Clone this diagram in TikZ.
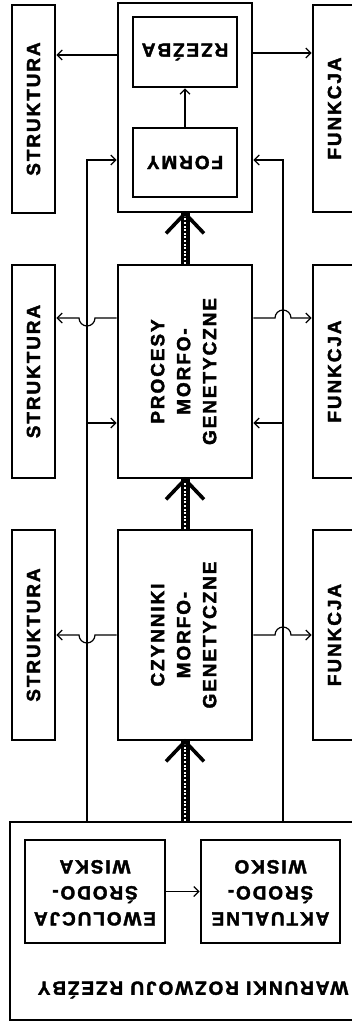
\documentclass[tikz,border=0pt]{standalone}
\usepackage{fontspec}
\newfontfamily\grube{Liberation Sans Bold}[LetterSpace=10, FakeBold=2]
\usepackage{graphicx}
\usetikzlibrary{arrows.meta}

\tikzset{every picture/.style={line width=1.2pt}}
\tikzset{
  napis/.style={font=\fontsize{19}{26}\grube},
  blok/.style={draw, line width=2.8pt, inner sep=0pt, napis},
  arr/.style={-{Straight Barb[length=5pt,width=10pt]}},
  pas/.style={line width=9pt},
  pasek/.style={white, line width=2.6pt, dash pattern=on 2pt off 1.6pt},
  chev/.style={line width=3.6pt},
}

\begin{document}
\begin{tikzpicture}[x=1pt,y=1pt,yscale=-1]
\useasboundingbox (0,0) rectangle (351,1024);
% gorny wiersz
\node[blok, minimum width=43, minimum height=208] (struk1) at (33.5,109) {\rotatebox{90}{STRUKTURA}};
\node[blok, minimum width=134, minimum height=209] (top) at (185,107.5) {};
\node[blok, minimum width=104, minimum height=70] (rzezba) at (185,52) {\rotatebox{180}{RZEŹBA}};
\node[blok, minimum width=104, minimum height=69] (formy) at (185,162.5) {\rotatebox{180}{FORMY}};
\node[blok, minimum width=43, minimum height=207] (funk1) at (334.5,108.5) {\rotatebox{90}{FUNKCJA}};
% srodkowy wiersz
\node[blok, minimum width=43, minimum height=213] (struk2) at (33.5,371.5) {\rotatebox{90}{STRUKTURA}};
\node[blok, minimum width=134, minimum height=213] (procesy) at (185,371.5)
  {\rotatebox{90}{\begin{tabular}{@{}c@{}}PROCESY\\MORFO-\\GENETYCZNE\end{tabular}}};
\node[blok, minimum width=43, minimum height=213] (funk2) at (334.5,371.5) {\rotatebox{90}{FUNKCJA}};
% dolny wiersz
\node[blok, minimum width=43, minimum height=210] (struk3) at (33.5,635) {\rotatebox{90}{STRUKTURA}};
\node[blok, minimum width=134, minimum height=210] (czynniki) at (185,635)
  {\rotatebox{90}{\begin{tabular}{@{}c@{}}CZYNNIKI\\MORFO-\\GENETYCZNE\end{tabular}}};
\node[blok, minimum width=43, minimum height=210] (funk3) at (334.5,635) {\rotatebox{90}{FUNKCJA}};
% warunki
\node[blok, minimum width=350, minimum height=198] (warunki) at (185,921) {};
\node[blok, minimum width=140, minimum height=103] (ewolucja) at (95,891.5)
  {\rotatebox{180}{\begin{tabular}{@{}c@{}}EWOLUCJA\\ŚRODO-\\WISKA\end{tabular}}};
\node[blok, minimum width=139, minimum height=103] (aktualne) at (270.5,891.5)
  {\rotatebox{180}{\begin{tabular}{@{}c@{}}AKTUALNE\\ŚRODO-\\WISKO\end{tabular}}};
\node[napis] (warlbl) at (193,990) {\rotatebox{180}{WARUNKI ROZWOJU RZEŹBY}};

\draw[arr] (ewolucja.east) -- (aktualne.west);
\draw[arr] (formy.north) -- (rzezba.south);
\draw[arr] (top.west |- 0,55) -- (struk1.east |- 0,55);
\draw[arr] (top.east |- 0,53) -- (funk1.west |- 0,53);

% linie boczne
\coordinate (lbus) at (87,160);
\coordinate (rbus) at (283,160);
\draw[arr] (warunki.north -| lbus) -- (lbus) -- (top.west |- lbus);
\draw[arr] (warunki.north -| rbus) -- (rbus) -- (top.east |- rbus);
\draw[arr] (lbus |- 0,423) -- (procesy.west |- 0,423);
\draw[arr] (rbus |- 0,423) -- (procesy.east |- 0,423);

% z przeskokiem
\draw[arr] (procesy.west |- 0,318) -- (95,318) arc[start angle=0, end angle=180, radius=8] -- (struk2.east |- 0,318);
\draw[arr] (procesy.east |- 0,318) -- (275,318) arc[start angle=180, end angle=360, radius=8] -- (funk2.west |- 0,318);
\draw[arr] (czynniki.west) -- (95,635) arc[start angle=0, end angle=180, radius=8] -- (struk3.east);
\draw[arr] (czynniki.east) -- (275,635) arc[start angle=180, end angle=360, radius=8] -- (funk3.west);

% grube strzalki
\draw[pas] (warunki.north -| czynniki.south) -- (czynniki.south);
\draw[pasek] (warunki.north -| czynniki.south) -- (czynniki.south);
\draw[chev] (czynniki.south) ++(-19,20) -- ++(19,-20) -- ++(19,20);
\draw[pas] (czynniki.north) -- (procesy.south);
\draw[pasek] (czynniki.north) -- (procesy.south);
\draw[chev] (procesy.south) ++(-19,20) -- ++(19,-20) -- ++(19,20);
\draw[pas] (procesy.north) -- (top.south);
\draw[pasek] (procesy.north) -- (top.south);
\draw[chev] (top.south) ++(-19,20) -- ++(19,-20) -- ++(19,20);
\end{tikzpicture}
\end{document}
